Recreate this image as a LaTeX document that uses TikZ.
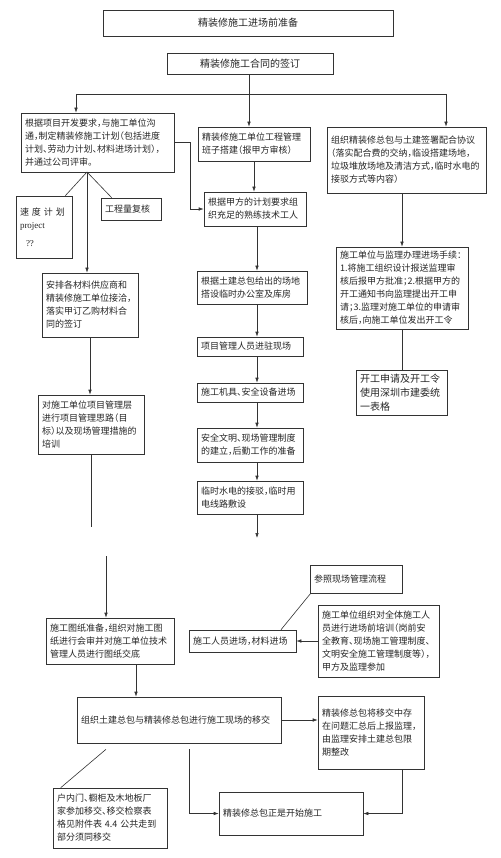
\documentclass[tikz,border=0pt]{standalone}
\usepackage{fontspec}
\setmainfont{Noto Sans CJK SC}[RawFeature=+halt]
\newfontfamily\latinfont{Liberation Serif}
\usetikzlibrary{arrows.meta}

\begin{document}
\begin{tikzpicture}[x=1pt, y=-1pt,
    every node/.style = {font=\fontsize{9}{13}\selectfont, text=black!85},
    box/.style = {draw=black!80, line width=0.6pt, rectangle, align=left,
      inner xsep=4pt, inner ysep=2pt},
    head/.style = {box, align=center, font=\fontsize{10}{13}\selectfont},
    link/.style = {draw=black!80, line width=0.6pt},
    arr/.style = {link, -{Latex[length=5pt,width=3.5pt]}}]
    \useasboundingbox[fill=white] (0,0) rectangle (500,858);

    \node[head, minimum width=290pt, minimum height=26pt] (title) at (248,23) {精装修施工进场前准备};
    \node[head, minimum width=166pt, minimum height=21pt] (sign) at (250,63.5) {精装修施工合同的签订};

    % left column
    \node[box, text width=145pt, minimum height=59pt] (plan) at (97.5,142.5)
        {根据项目开发要求，与施工单位沟\\通，制定精装修施工计划（包括进度\\计划、劳动力计划、材料进场计划），\\并通过公司评审。};
    \node[box, text width=48pt, minimum height=62pt] (speed) at (44,227)
        {速 度 计 划\\{\latinfont project}\\[5pt]\hspace*{6pt}{\latinfont ??}};
    \node[box, text width=52pt, minimum height=22pt] (qty) at (131,209) {工程量复核};
    \node[box, text width=88pt, minimum height=64pt] (supply) at (90,305)
        {安排各材料供应商和\\精装修施工单位接洽，\\落实甲订乙购材料合\\同的签订};
    \node[box, text width=98pt, minimum height=59pt] (train) at (91,424.5)
        {对施工单位项目管理层\\进行项目管理思路（目\\标）以及现场管理措施的\\培训};
    \node[box, text width=120pt, minimum height=46pt] (drawing) at (110,641)
        {施工图纸准备，组织对施工图\\纸进行会审并对施工单位技术\\管理人员进行图纸交底};

    % middle column
    \node[box, text width=104pt, minimum height=34pt] (team) at (254,144)
        {精装修施工单位工程管理\\班子搭建（报甲方审核）};
    \node[box, text width=94pt, minimum height=34pt] (workers) at (255,209)
        {根据甲方的计划要求组\\织充足的熟练技术工人};
    \node[box, text width=102pt, minimum height=33pt] (office) at (252,287.5)
        {根据土建总包给出的场地\\搭设临时办公室及库房};
    \node[box, text width=98pt, minimum height=19pt] (staff) at (250,346.5) {项目管理人员进驻现场};
    \node[box, text width=98pt, minimum height=19pt] (equip) at (250,392.5) {施工机具、安全设备进场};
    \node[box, text width=98pt, minimum height=34pt] (rules) at (250,445)
        {安全文明、现场管理制度\\的建立，后勤工作的准备};
    \node[box, text width=98pt, minimum height=33pt] (power) at (250,497.5)
        {临时水电的接驳，临时用\\电线路敷设};

    % right column
    \node[box, text width=151pt, minimum height=66pt] (agree) at (406.5,160)
        {组织精装修总包与土建签署配合协议\\（落实配合费的交纳，临设搭建场地，\\垃圾堆放场地及清洁方式，临时水电的\\接驳方式等内容）};
    \node[box, text width=124pt, minimum height=82pt] (procs) at (402,288)
        {施工单位与监理办理进场手续：\\1.将施工组织设计报送监理审\\核后报甲方批准；2.根据甲方的\\开工通知书向监理提出开工申\\请；3.监理对施工单位的申请审\\核后，向施工单位发出开工令};
    \node[box, text width=83pt, minimum height=45pt, font=\fontsize{10}{14}\selectfont] (permit) at (401.5,392.5)
        {开工申请及开工令\\使用深圳市建委统\\一表格};

    % site entry
    \node[box, text width=84pt, minimum height=28pt] (ref) at (356,579) {参照现场管理流程};
    \node[box, text width=99pt, minimum height=22pt] (enter) at (242.5,641) {施工人员进场，材料进场};
    \node[box, text width=113pt, minimum height=72pt] (brief) at (378.5,641)
        {施工单位组织对全体施工人\\员进行进场前培训（岗前安\\全教育、现场施工管理制度、\\文明安全施工管理制度等），\\甲方及监理参加};

    % handover
    \node[box, text width=196pt, minimum height=46pt] (handover) at (179,720)
        {组织土建总包与精装修总包进行施工现场的移交};
    \node[box, text width=98pt, minimum height=73pt] (check) at (371,732.5)
        {精装修总包将移交中存\\在问题汇总后上报监理，\\由监理安排土建总包限\\期整改};
    \node[box, text width=136pt, minimum height=43pt] (start) at (291,813.5) {精装修总包正是开始施工};
    \node[box, text width=106pt, minimum height=60pt] (notes) at (110,818)
        {户内门、橱柜及木地板厂\\家参加移交、移交检察表\\格见附件表 4.4 公共走到\\部分须同移交};

    % connectors
    \coordinate (split) at (249,94);
    \coordinate (lt) at (76,94);
    \coordinate (rt) at (446,94);
    \draw[link] (sign.south -| split) -- (split);
    \draw[link] (lt) -- (rt);
    \draw[arr] (lt) -- (lt |- plan.north);
    \draw[arr] (split) -- (split |- team.north);
    \draw[arr] (rt) -- (rt |- agree.north);

    \draw[arr] (team.south) -- (team.south |- workers.north);
    \coordinate (spine) at (257,0);
    \draw[arr] (workers.south -| spine) -- (office.north -| spine);
    \draw[arr] (office.south -| spine) -- (staff.north -| spine);
    \draw[arr] (staff.south -| spine) -- (equip.north -| spine);
    \draw[arr] (equip.south -| spine) -- (rules.north -| spine);
    \draw[arr] (rules.south -| spine) -- (power.north -| spine);
    \coordinate (midend) at (257,538);
    \draw[arr] (power.south -| midend) -- (midend);

    \draw[arr] (plan.east) -- ++(16,0) |- (workers.west);
    \coordinate (fork) at (87,172);
    \draw[link] (fork) -- ([xshift=-7pt]speed.north east);
    \draw[link] (fork) -- ([xshift=11pt]qty.north west);
    \draw[arr] (fork) -- (fork |- supply.north);
    \draw[arr] (supply.south) -- (supply.south |- train.north);
    \coordinate (leftend) at (91,527);
    \draw[link] (train.south -| leftend) -- (leftend);
    \coordinate (leftstart) at (106,556);
    \draw[arr] (leftstart) -- (leftstart |- drawing.north);

    \draw[arr] (procs.north |- agree.south) -- (procs.north);
    \draw[link] (procs.south) -- (procs.south |- permit.north);

    \draw[link] ([xshift=1pt]ref.south west) -- ([xshift=38.5pt]enter.north);
    \draw[arr] (brief.west) -- (enter.east);

    \draw[arr] ([xshift=26pt]drawing.south) -- ([xshift=26pt]drawing.south |- handover.north);
    \draw[arr] (handover.east) -- (handover.east -| check.west);
    \draw[arr] ([xshift=31pt]check.south) |- (start.east);
    \draw[arr] ([xshift=10pt,yshift=-6pt]handover.south) |- (start.west);
    \draw[link] ([xshift=-73pt,yshift=-6pt]handover.south) -- ([xshift=8pt]notes.north west);
\end{tikzpicture}
\end{document}
